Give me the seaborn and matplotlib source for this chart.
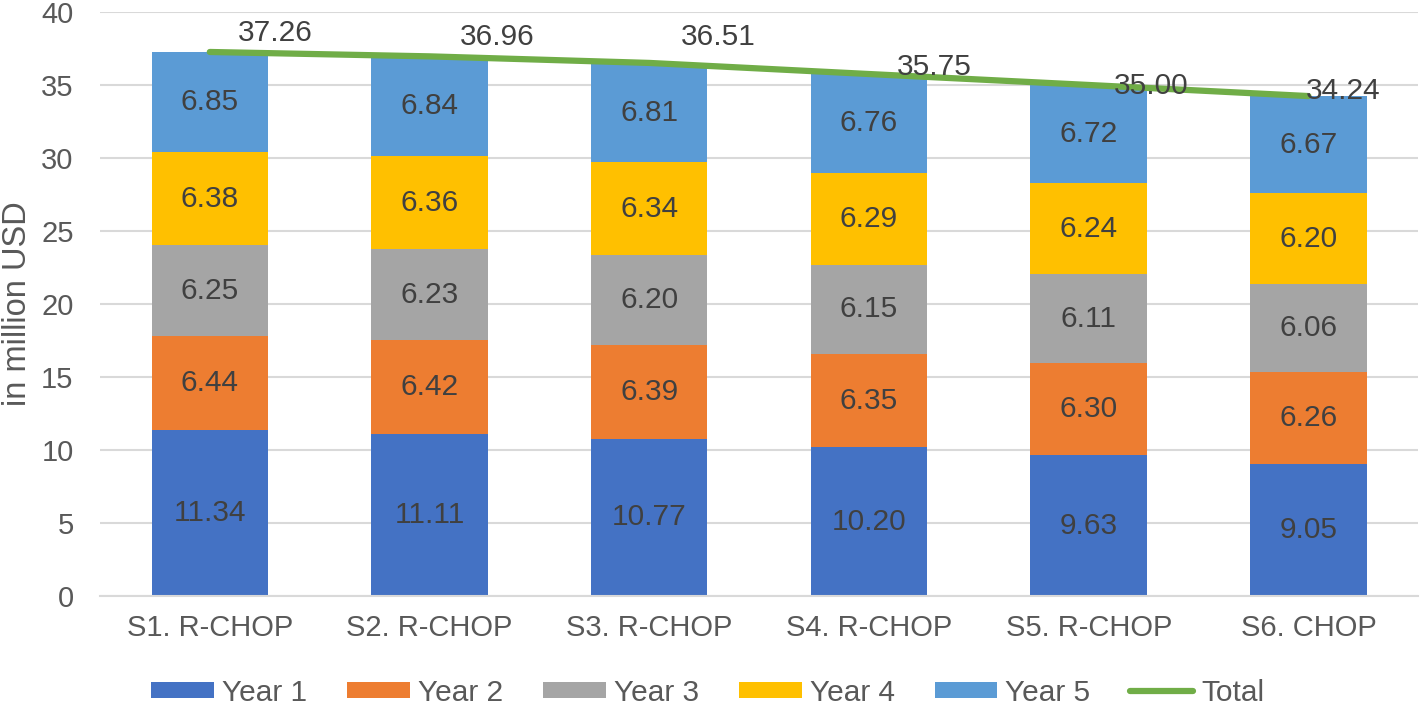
import numpy as np
import pandas as pd
import matplotlib
matplotlib.use("Agg")
import matplotlib.pyplot as plt
import seaborn as sns
from matplotlib.patches import Patch
from matplotlib.lines import Line2D

categories = ["S1. R-CHOP", "S2. R-CHOP", "S3. R-CHOP", "S4. R-CHOP", "S5. R-CHOP", "S6. CHOP"]
year1 = [11.34, 11.11, 10.77, 10.20, 9.63, 9.05]
year2 = [6.44, 6.42, 6.39, 6.35, 6.30, 6.26]
year3 = [6.25, 6.23, 6.20, 6.15, 6.11, 6.06]
year4 = [6.38, 6.36, 6.34, 6.29, 6.24, 6.20]
year5 = [6.85, 6.84, 6.81, 6.76, 6.72, 6.67]
totals = [37.26, 36.96, 36.51, 35.75, 35.00, 34.24]
series_names = ["Year 1", "Year 2", "Year 3", "Year 4", "Year 5"]
colors = ["#4472C4", "#ED7D31", "#A5A5A5", "#FFC000", "#5B9BD5"]
line_color = "#70AD47"
yticks = [0, 5, 10, 15, 20, 25, 30, 35, 40]
# label offsets (points) for total labels
total_label_offsets = [(47, 14), (49, 14), (50, 19), (47, 5), (45, -1), (25, 4)]

sns.set_theme(style="white")
plt.rcParams["font.family"] = ["Liberation Sans", "DejaVu Sans"]
text_color = "#404040"

fig = plt.figure(figsize=(14.24, 7.04), dpi=100)
ax = fig.add_axes([0.0702, 0.1534, 0.9258, 0.8296])

series = [year1, year2, year3, year4, year5]
bottoms = np.zeros(len(categories))
for name, vals, col in zip(series_names, series, colors):
    df = pd.DataFrame({"cat": categories, "val": vals})
    sns.barplot(data=df, x="cat", y="val", color=col, width=0.53,
                bottom=bottoms.copy(), ax=ax, saturation=1, linewidth=0,
                edgecolor="none")
    for i, v in enumerate(vals):
        ax.text(i, bottoms[i] + v / 2, f"{v:.2f}", ha="center", va="center",
                fontsize=21.5, color=text_color)
    bottoms = bottoms + np.array(vals)

xs = np.arange(len(categories))
sns.lineplot(x=xs, y=totals, color=line_color, linewidth=4.5, ax=ax,
             solid_capstyle="round")
for i, (t, off) in enumerate(zip(totals, total_label_offsets)):
    ax.annotate(f"{t:.2f}", (i, t), xytext=off, textcoords="offset points",
                ha="center", va="center", fontsize=21.5, color=text_color)

ax.set_ylim(0, 40)
ax.set_xlim(-0.5, len(categories) - 0.5)
ax.set_yticks(yticks)
ax.yaxis.grid(True, color="#D9D9D9", linewidth=1.5)
ax.set_axisbelow(True)
for s in ["top", "right", "left"]:
    ax.spines[s].set_visible(False)
ax.spines["bottom"].set_color("#D9D9D9")
ax.spines["bottom"].set_linewidth(1.5)
ax.tick_params(axis="y", length=0, labelsize=21, colors="#595959", pad=19)
ax.tick_params(axis="x", length=0, labelsize=21, colors="#595959", pad=13)
ax.set_xlabel("")
ax.set_ylabel("in million USD", fontsize=23.5, color="#595959", labelpad=6)

handles = [Patch(facecolor=c, edgecolor="none") for c in colors]
handles.append(Line2D([0], [0], color=line_color, linewidth=4.5, solid_capstyle="round"))
labels = series_names + ["Total"]
fig.legend(handles, labels, loc="lower center", bbox_to_anchor=(0.497, -0.042), ncol=6,
           frameon=False, fontsize=21.5, handlelength=2.1, handleheight=0.47,
           handletextpad=0.27, columnspacing=1.34, labelcolor="#595959")

fig.savefig("out.png", dpi=100)
